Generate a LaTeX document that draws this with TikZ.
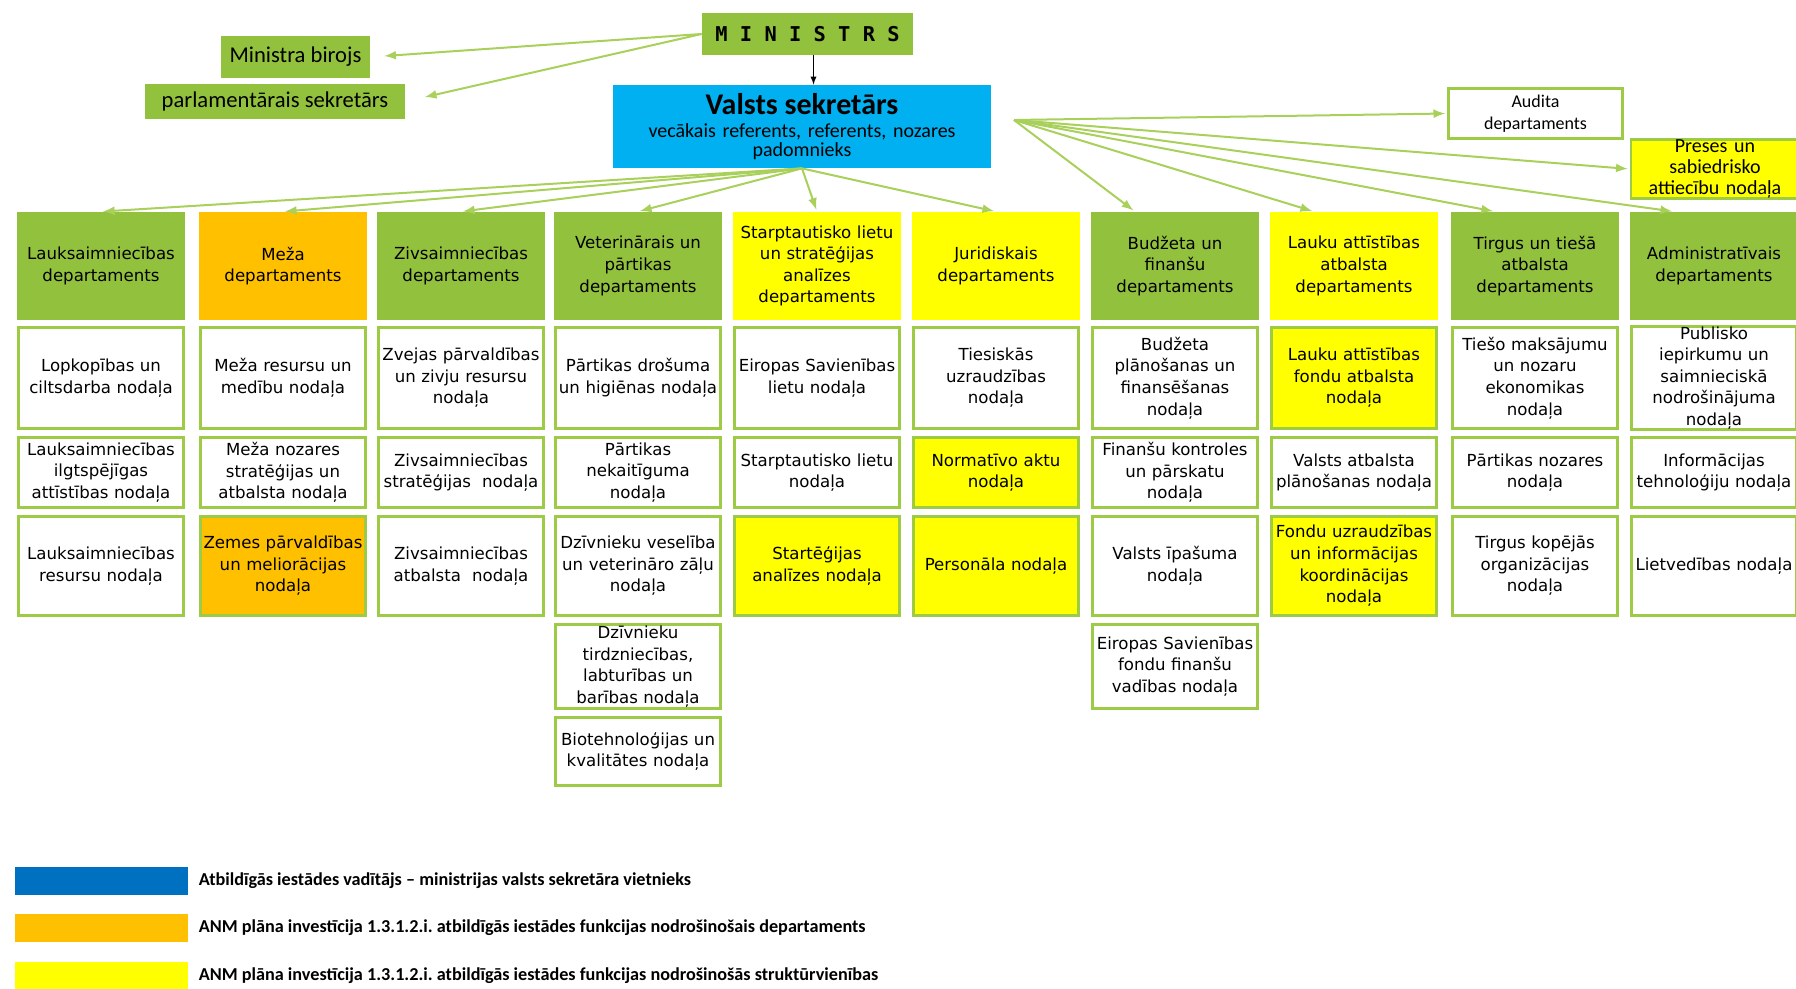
\documentclass[tikz,border=0pt]{standalone}
\usepackage{fontspec}
\setmainfont{DejaVu Sans}
\newfontfamily\calfont{Carlito}
\newfontfamily\monofont{DejaVu Sans Mono}
\usetikzlibrary{positioning}
\definecolor{mgreen}{HTML}{92C13E}
\definecolor{lgreen}{HTML}{9DCB45}
\definecolor{agreen}{HTML}{A8D05A}
\definecolor{vsblue}{HTML}{00B0F0}
\definecolor{lgblue}{HTML}{0070C0}
\definecolor{morange}{HTML}{FFC000}
\definecolor{myellow}{HTML}{FFFF00}
\newcommand{\boxfont}{\fontsize{8.3}{10.8}\selectfont}
\frenchspacing

\tikzset{
  topbox/.style={fill=mgreen, inner sep=1pt, font=\calfont\fontsize{11.3}{13}\selectfont},
  vsbox/.style={fill=vsblue, minimum width=189pt, minimum height=41.5pt, text width=185pt,
    align=center, inner sep=1pt, font=\calfont\fontsize{10}{9.5}\selectfont},
  dept/.style={fill=mgreen, minimum width=84pt, minimum height=54pt, text width=82pt,
    align=center, inner sep=1pt, font=\boxfont},
  unit/.style={draw=lgreen, line width=1.4pt, fill=white, minimum width=82.6pt, text width=82pt,
    align=center, inner sep=0pt, font=\boxfont},
  ofill/.style={fill=morange},
  yfill/.style={fill=myellow},
  rowa/.style={minimum height=50.6pt},
  rowb/.style={minimum height=35.1pt},
  rowc/.style={minimum height=49.6pt},
  rowd/.style={minimum height=42.1pt},
  rowe/.style={minimum height=34.1pt},
  link/.style={agreen, line width=1pt, -latex, shorten >=1pt},
  legbar/.style={minimum width=86.5pt, minimum height=14pt, inner sep=0pt},
  legtext/.style={anchor=west, inner sep=0pt, font=\calfont\bfseries\fontsize{9.1}{10}\selectfont}
}

\begin{document}
\begin{tikzpicture}[x=0.5pt,y=-0.5pt]
\useasboundingbox (0,0) rectangle (1796,989);

% vadiba
\node[topbox, minimum width=105.5pt, minimum height=21pt, font=\monofont\bfseries\fontsize{10.2}{12}\selectfont] (min) at (807.5,34) {M I N I S T R S};
\node[topbox, minimum width=74.5pt, minimum height=21pt] (mb) at (295.5,57) {Ministra birojs};
\node[topbox, minimum width=130pt, minimum height=17.5pt] (ps) at (275,101.5) {parlamentārais sekretārs};
\node[vsbox] (vs) at (802,126.5) {{\fontsize{15}{17}\selectfont\bfseries Valsts sekretārs}\\[2pt] vecākais referents, referents, nozares\\ padomnieks};
\node[unit, minimum width=87pt, minimum height=25pt, font=\calfont\fontsize{9}{10.9}\selectfont] (aud) at (1535.5,113.5) {Audita\\departaments};
\node[unit, yfill, minimum width=84pt, minimum height=29pt, font=\calfont\fontsize{10}{10.6}\selectfont] (pre) at (1715,169) {Preses un\\sabiedrisko\\attiecību nodaļa};
\coordinate (fan) at (1014,120);

% departamenti
\node[dept] (d1) at (101,266) {Lauksaimniecības\\departaments};
\node[dept, ofill] (d2) at (283,266) {Meža\\departaments};
\node[dept] (d3) at (461,266) {Zivsaimniecības\\departaments};
\node[dept] (d4) at (638,266) {Veterinārais un\\pārtikas\\departaments};
\node[dept, yfill] (d5) at (817,266) {Starptautisko lietu\\un stratēģijas\\analīzes\\departaments};
\node[dept, yfill] (d6) at (996,266) {Juridiskais\\departaments};
\node[dept] (d7) at (1175,266) {Budžeta un\\finanšu\\departaments};
\node[dept, yfill] (d8) at (1354,266) {Lauku attīstības\\atbalsta\\departaments};
\node[dept] (d9) at (1535,266) {Tirgus un tiešā\\atbalsta\\departaments};
\node[dept] (d10) at (1714,266) {Administratīvais\\departaments};

% nodalas
\node[unit, rowa] (n1a) at (101,378) {Lopkopības un\\ciltsdarba nodaļa};
\node[unit, rowb] (n1b) at (101,472.5) {Lauksaimniecības\\ilgtspējīgas\\attīstības nodaļa};
\node[unit, rowc] (n1c) at (101,566) {Lauksaimniecības\\resursu nodaļa};

\node[unit, rowa] (n2a) at (283,378) {Meža resursu un\\medību nodaļa};
\node[unit, rowb] (n2b) at (283,472.5) {Meža nozares\\stratēģijas un\\atbalsta nodaļa};
\node[unit, rowc, ofill] (n2c) at (283,566) {Zemes pārvaldības\\un meliorācijas\\nodaļa};

\node[unit, rowa] (n3a) at (461,378) {Zvejas pārvaldības\\un zivju resursu\\nodaļa};
\node[unit, rowb] (n3b) at (461,472.5) {Zivsaimniecības\\stratēģijas~ nodaļa};
\node[unit, rowc] (n3c) at (461,566) {Zivsaimniecības\\atbalsta~ nodaļa};

\node[unit, rowa] (n4a) at (638,378) {Pārtikas drošuma\\un higiēnas nodaļa};
\node[unit, rowb] (n4b) at (638,472.5) {Pārtikas\\nekaitīguma\\nodaļa};
\node[unit, rowc] (n4c) at (638,566) {Dzīvnieku veselība\\un veterināro zāļu\\nodaļa};
\node[unit, rowd] (n4d) at (638,666.5) {Dzīvnieku\\tirdzniecības,\\labturības un\\barības nodaļa};
\node[unit, rowe] (n4e) at (638,751.5) {Biotehnoloģijas un\\kvalitātes nodaļa};

\node[unit, rowa] (n5a) at (817,378) {Eiropas Savienības\\lietu nodaļa};
\node[unit, rowb] (n5b) at (817,472.5) {Starptautisko lietu\\nodaļa};
\node[unit, rowc, yfill] (n5c) at (817,566) {Startēģijas\\analīzes nodaļa};

\node[unit, rowa] (n6a) at (996,378) {Tiesiskās\\uzraudzības\\nodaļa};
\node[unit, rowb, yfill] (n6b) at (996,472.5) {Normatīvo aktu\\nodaļa};
\node[unit, rowc, yfill] (n6c) at (996,566) {Personāla nodaļa};

\node[unit, rowa] (n7a) at (1175,378) {Budžeta\\plānošanas un\\finansēšanas\\nodaļa};
\node[unit, rowb] (n7b) at (1175,472.5) {Finanšu kontroles\\un pārskatu\\nodaļa};
\node[unit, rowc] (n7c) at (1175,566) {Valsts īpašuma\\nodaļa};
\node[unit, rowd] (n7d) at (1175,666.5) {Eiropas Savienības\\fondu finanšu\\vadības nodaļa};

\node[unit, rowa, yfill] (n8a) at (1354,378) {Lauku attīstības\\fondu atbalsta\\nodaļa};
\node[unit, rowb] (n8b) at (1354,472.5) {Valsts atbalsta\\plānošanas nodaļa};
\node[unit, rowc, yfill] (n8c) at (1354,566) {Fondu uzraudzības\\un informācijas\\koordinācijas\\nodaļa};

\node[unit, rowa] (n9a) at (1535,378) {Tiešo maksājumu\\un nozaru\\ekonomikas\\nodaļa};
\node[unit, rowb] (n9b) at (1535,472.5) {Pārtikas nozares\\nodaļa};
\node[unit, rowc] (n9c) at (1535,566) {Tirgus kopējās\\organizācijas\\nodaļa};

\node[unit, rowa] (n10a) at (1714,378) {Publisko\\iepirkumu un\\saimnieciskā\\nodrošinājuma\\nodaļa};
\node[unit, rowb] (n10b) at (1714,472.5) {Informācijas\\tehnoloģiju nodaļa};
\node[unit, rowc] (n10c) at (1714,566) {Lietvedības nodaļa};

% bultas
\draw[link, shorten >=7pt] (min.west) -- (mb.east);
\draw[link, shorten >=10pt] (min.west) -- (ps.east);
\draw[black, thin, -latex] ([xshift=3pt]min.south) -- ([xshift=3pt]min.south |- vs.north);
\foreach \i in {1,...,6}
\draw[link] (vs.south) -- (d\i.north);
\foreach \i in {7,...,10}
\draw[link] (fan) -- ([xshift=-20pt]d\i.north);
\draw[link] (fan) -- (aud.west);
\draw[link] (fan) -- (pre.west);

% legenda
\node[legbar, fill=lgblue] (kb) at (101.5,881) {};
\node[legbar, fill=morange] (ko) at (101.5,928) {};
\node[legbar, fill=myellow] (ky) at (101.5,976) {};
\node[legtext, right=5pt of kb] (tb) {Atbildīgās iestādes vadītājs – ministrijas valsts sekretāra vietnieks};
\node[legtext, right=5pt of ko] (to) {ANM plāna investīcija 1.3.1.2.i. atbildīgās iestādes funkcijas nodrošinošais departaments};
\node[legtext, right=5pt of ky] (ty) {ANM plāna investīcija 1.3.1.2.i. atbildīgās iestādes funkcijas nodrošinošās struktūrvienības};
\end{tikzpicture}
\end{document}
